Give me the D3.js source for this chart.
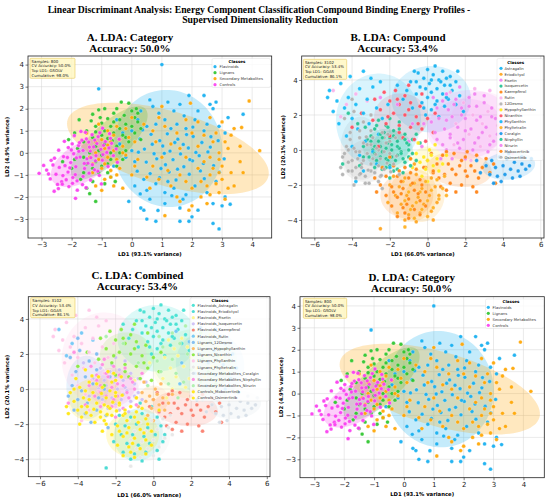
<!DOCTYPE html>
<html>
<head>
<meta charset="utf-8">
<script src="https://cdn.jsdelivr.net/npm/d3@7"></script>
<style>
  body { margin: 0; background: #fff; }
  svg { display: block; }
</style>
</head>
<body>
<div id="chart"></div>
<script>

// ---- category data (panels A and D) ----
const categories = ["Flavinoids", "Lignans", "Secondary Metabolites", "Controls"];
const categoryColors = ["#12aef0", "#2bc42b", "#ffa500", "#fa3cf0"];

const flavinoidsPts = [[1.0,4.0],[-1.1,2.9],[0.6,2.4],[1.2,2.3],[1.6,2.2],[1.9,2.6],[2.4,2.6],[2.6,2.2],[2.8,2.3],[3.7,1.75],
  [2.2,1.9],[1.4,1.9],[0.9,1.8],[0.3,1.9],[0.2,1.5],[0.5,1.2],[0.8,1.3],[1.1,1.5],[1.5,1.3],[1.8,1.1],[2.1,1.5],[2.5,1.3],
  [2.9,1.2],[3.1,0.9],[0.27,0.63],[0.64,0.84],[0.93,0.55],[1.18,0.86],[1.53,0.62],[1.71,0.38],[2.04,0.74],[2.33,0.47],
  [2.61,0.26],[2.87,0.55],[0.42,0.17],[0.74,-0.04],[1.03,0.31],[1.27,0.08],[1.62,-0.05],[1.88,0.22],[2.24,-0.13],[2.53,0.04],
  [0.48,-0.42],[0.83,-0.27],[1.12,-0.54],[1.37,-0.31],[1.73,-0.63],[2.02,-0.36],[0.18,-0.83],[0.61,-0.94],[0.92,-1.13],
  [1.24,-0.87],[1.47,-1.23],[1.91,-0.97],[2.28,-0.82],[2.72,-0.58],[3.07,-0.27],
  [0.1,-1.5],[0.5,-1.7],[0.8,-1.4],[1.1,-1.8],[1.4,-1.6],[1.8,-1.9],[2.1,-1.5],[2.5,-1.8],[2.8,-1.3],[3.1,-2.0],
  [3.0,-2.4],[0.6,-2.1],[-0.1,-2.2],[0.4,-2.6],[1.1,-2.3],[1.6,-2.5],[2.2,-2.6],[2.7,-2.3],[0.5,-3.0],[0.8,-3.1],[1.6,-3.1],
  [1.9,-3.1],[2.0,-2.9],[2.7,-3.2],[2.9,-3.45],[0.3,-2.5],[-0.4,0.4],[-0.2,-0.2],[0.0,0.1],[-0.6,-0.6],[0.0,1.0],[-0.3,0.9],
  [0.1,-0.4],[-0.5,1.5],[1.3,1.1],[0.4,-1.2],[1.7,-2.1],[2.4,1.0],[3.2,1.6],[2.7,2.0],[0.7,2.1],[1.2,-1.3],
  [1.43,0.47],[1.82,0.83],[2.13,0.02],[2.38,-0.48],[0.97,-0.71],[0.68,0.39],[1.52,-0.74],[2.03,1.17],[0.36,1.04],[1.08,-0.02],
  [2.63,0.73],[1.33,-1.94],[0.87,-2.61],[2.41,-1.17],[0.28,-1.86],[1.93,-0.31],[0.22,0.03],[2.91,-0.88],[3.27,-2.33],[1.74,1.68]];

const lignansPts = [[-1.75,1.5],[-1.3,1.75],[-1.1,1.95],[-0.9,2.0],[-0.35,2.3],[-0.1,2.25],[0.0,1.9],[0.1,1.6],[0.2,1.4],
  [0.3,1.1],[-0.6,1.8],[-0.8,1.55],[-1.0,1.35],[-1.2,1.2],[-1.5,1.0],[-0.4,1.5],[-0.2,1.3],[0.0,1.2],[-0.7,1.2],[-1.3,0.7],
  [-1.0,0.8],[-0.6,0.9],[-0.3,0.8],[-0.1,0.5],[-1.6,0.5],[-1.2,0.3],[-0.9,0.4],[-0.5,0.3],[-0.2,0.1],[-1.8,0.2],[-1.4,0.0],
  [-1.0,-0.1],[-0.7,0.0],[-0.3,-0.3],[-1.9,-0.3],[-1.5,-0.5],[-1.2,-0.4],[-0.8,-0.5],[-0.5,-0.6],[-2.0,-0.7],[-1.6,-0.9],
  [-1.1,-0.9],[-0.7,-1.1],[-1.3,-1.3],[-0.9,-1.4],[-1.5,-1.6],[-1.4,-1.85],[-1.2,-2.2],[-2.3,-0.4],[-2.1,0.6],[-0.4,1.1],
  [-0.8,0.65],[0.1,0.9],[-1.7,-1.2],[-1.05,1.6],[-0.55,-1.3],[-0.25,1.7],[0.15,2.0],[-0.65,0.55],[-1.35,1.45],
  [-0.6,1.4],[-0.9,1.0],[-1.1,0.1],[-0.4,0.0],[-1.3,-0.7],[-0.2,0.7],[0.2,1.8],[-0.7,-0.3],[-1.6,-0.2],[-0.5,2.0],
  [-1.0,-0.6],[0.3,0.6],[-1.9,0.9],[-0.8,-0.9],[-1.2,0.95]];

const secondaryPts = [[1.95,2.25],[3.9,2.35],[3.4,1.1],[3.65,1.15],[2.6,1.6],[2.2,1.4],[1.8,1.5],[1.1,1.2],[0.7,1.0],
  [1.0,2.1],[0.4,1.3],[1.5,0.9],[2.4,0.8],[2.8,0.9],[3.3,0.8],[3.6,0.3],[3.6,-0.4],[4.25,0.1],[3.2,0.2],[2.9,0.0],[2.6,-0.2],
  [2.2,0.3],[1.8,-0.2],[1.3,0.4],[0.8,0.5],[3.0,-0.6],[2.9,-0.9],[2.6,-1.0],[3.0,-1.2],[2.8,-1.4],[2.5,-1.5],[2.3,-1.3],
  [2.0,-1.6],[1.8,-1.3],[2.9,-1.8],[3.2,-1.6],[2.6,-1.9],[2.3,-2.0],[1.5,-2.0],[1.6,-2.2],[2.0,-2.4],[1.9,-2.6],[1.1,-2.85],
  [0.6,-1.6],[0.9,-1.2],[1.2,-0.8],[1.6,-1.0],[0.7,-0.6],[1.0,-0.2],[2.7,0.5],[3.3,-0.9],[2.2,-0.7],[-0.2,1.1],[-0.5,1.2],
  [-0.8,1.0],[-0.4,0.6],[-0.7,0.5],[-1.0,0.6],[-0.3,0.3],[-0.6,0.1],[-0.9,0.2],[-1.2,0.5],[-0.2,-0.1],[-0.5,-0.3],[-0.8,-0.2],
  [-1.1,-0.3],[-1.4,-0.2],[-0.4,-0.7],[-0.7,-0.8],[-1.0,-0.7],[-1.3,-0.9],[-0.9,-1.2],[-1.2,-1.5],[-0.6,-1.5],[-0.3,-1.6],
  [-1.0,-1.7],[0.1,0.5],[0.2,-0.3],[0.0,-1.0],[-1.5,0.9],[-1.1,1.3],[0.0,1.6],[2.9,-0.3],[3.1,-2.1],[3.7,-0.9],[2.4,-0.4],
  [-0.6,0.8],[-0.3,0.0],[-0.9,-0.5],[-0.1,0.7],[-1.2,0.0],[-0.7,-1.1],[-0.5,-1.0],[0.1,-0.6],[-1.3,-0.5],[-0.8,0.35],
  [2.0,0.9],[1.6,0.2],[3.4,-1.5],[2.7,-0.7],[3.1,0.5],[1.3,-1.5],[2.5,-2.3],[0.9,1.6],[3.0,1.4],[0.5,-1.1]];

const controlsPts = [[-3.08,-0.93],[-2.83,-0.78],[-2.62,-0.55],[-2.41,-0.66],[-2.71,-1.18],[-2.47,-1.43],[-2.58,-1.74],
  [-2.33,-1.31],[-2.18,-1.22],[-1.97,-1.38],[-1.82,-1.27],[-2.12,-0.87],[-1.88,-0.99],[-2.27,-0.17],[-2.03,-0.44],
  [-1.86,-0.63],[-1.57,-0.71],[-2.43,0.12],[-2.11,0.24],[-1.93,-0.04],[-1.72,-0.19],[-1.49,-0.27],[-1.31,-0.54],
  [-2.24,0.52],[-1.98,0.41],[-1.77,0.33],[-1.62,0.11],[-1.38,0.08],[-1.19,-0.13],[-0.98,-0.33],[-1.91,0.78],[-1.66,0.57],
  [-1.43,0.49],[-1.27,0.27],[-1.03,0.16],[-0.83,0.02],[-1.54,0.93],[-1.32,0.82],[-1.12,0.73],[-0.88,0.51],[-0.67,0.43],
  [-0.97,1.12],[-0.74,0.87],[-1.42,-0.92],[-1.13,-0.83],[-1.62,-1.07],[-1.37,-1.23],[-1.08,-1.02],[-2.68,-0.34],
  [-2.93,-0.57],[-1.81,-1.69],[-1.52,-1.58],[-2.29,-1.03],[-1.69,0.97],[-0.52,0.18],[-0.61,-0.13],[-0.79,-0.62],
  [-2.06,-0.68],[-2.52,-0.97],[-1.23,0.58],[-0.42,0.62],[-1.01,-1.41],[-1.87,-2.06],[-0.48,-0.43],[-1.76,0.07],
  [-2.22,-0.58],[-1.46,-0.47],[-0.94,0.34],[-2.44,-1.62],[-2.09,-1.53],[-1.84,-0.23],[-1.58,-0.48],[-1.36,-0.22],
  [-2.01,0.13],[-1.74,0.46],[-1.51,0.63],[-1.16,0.42],[-0.96,-0.08],[-2.14,-0.21],[-1.24,-0.77],[-0.76,0.22],
  [-1.96,-1.12],[-2.31,-1.42],[-1.64,-1.44],[-2.77,-0.96],[-1.41,0.26],[-1.06,0.91],[-0.71,0.66],[-2.57,-0.24],
  [-1.21,-0.36]];

const categoryPts = [flavinoidsPts, lignansPts, secondaryPts, controlsPts];

// confidence ellipses: centre x, centre y, then two conjugate half-axes
const categoryEllipses = [
  [1.2, 0.2, 1.8, 0.15, -0.15, 2.65],
  [-0.75, 0.45, 1.15, 1.6, 0.55, -0.45],
  [1.2, 0.2, 3.2, -0.55, -1.0, 2.0],
  [-1.65, -0.45, 1.0, 0.8, 0.3, -0.75]
];

// ---- compound data (panels B and C share the same projected samples) ----
const compounds = ["Astragalin","Eriodictyol","Fisetin","Isoquercetin","Kaempferol","Rutin","12Desmo","Hypophyllanthin",
  "Niranthin","Phyllanthin","Phyltetralin","Coralgin","Nirphyllin","Nirurin","Mobocertinib","Osimertinib"];
const compoundColors = ["#10b0f0","#ffa31a","#f07ef0","#1fbf8f","#ff7f0e","#f9b0ea","#b0b0b0","#ffe81a",
  "#ff4d5e","#10b8f5","#ffb020","#1496e8","#22c495","#f080f0","#ff8410","#b0b0b0"];

const combinedLabels = ["Flavinoids_Astragalin","Flavinoids_Eriodictyol","Flavinoids_Fisetin","Flavinoids_Isoquercetin",
  "Flavinoids_Kaempferol","Flavinoids_Rutin","Lignans_12Desmo","Lignans_Hypophyllanthin","Lignans_Niranthin",
  "Lignans_Phyllanthin","Lignans_Phyltetralin","Secondary Metabolites_Coralgin","Secondary Metabolites_Nirphyllin",
  "Secondary Metabolites_Nirurin","Controls_Mobocertinib","Controls_Osimertinib"];
const combinedColors = ["#3ee0d0","#3ed8d0","#fcf58a","#cbbdf5","#fa7a68","#6cc4f5","#7ab8f0","#ffb55a",
  "#86e83a","#ffc4e6","#e6e6e6","#d5dde6","#ff8ae0","#a8efa8","#ffe60a","#ffe60a"];

const astragalinPts = [[0.4,4.8],[0.0,4.6],[0.8,4.5],[-0.5,4.4],[0.3,4.3],[1.2,4.2],[-0.2,4.1],[0.6,4.0],[1.5,3.9],[-0.9,3.9],
  [0.1,3.8],[0.9,3.7],[-0.4,3.6],[0.5,3.5],[1.3,3.4],[-1.1,3.4],[0.2,3.3],[0.8,3.2],[-0.6,3.2],[1.7,3.1],[0.0,3.0],[1.1,2.9],
  [-1.3,2.9],[0.5,2.8],[-0.3,2.7],[1.5,2.6],[0.9,2.5],[-0.8,2.4],[0.2,2.3],[1.9,2.2],[-0.1,2.0],[0.6,1.9],[-1.6,3.7],
  [1.0,4.1],[-0.7,4.5],[1.6,4.5],[0.7,3.9],[-0.1,3.5],[1.0,3.0],[0.4,2.6],[-0.6,3.9],[1.2,3.7],[0.2,4.0],[-0.2,2.4]];
const eriodictyolPts = [[-1.8,-1.5],[-1.2,-1.6],[-0.6,-1.4],[0.2,-1.6],[-2.0,-2.0],[-1.5,-2.1],[-0.9,-2.0],[-0.3,-2.2],
  [0.4,-2.1],[-1.7,-2.6],[-1.1,-2.6],[-0.5,-2.7],[0.1,-2.6],[-2.1,-3.0],[-1.4,-3.1],[-0.8,-3.2],[-0.2,-3.1],[0.5,-3.0],
  [-1.6,-3.6],[-1.0,-3.7],[-0.4,-3.6],[0.2,-3.5],[-1.2,-4.0],[-0.6,-4.1],[0.3,-4.0],[-2.5,-4.5],[-0.1,-1.0],[-0.7,-0.8],
  [0.6,-2.6]];
const fisetinPts = [[0.8,2.8],[1.5,2.9],[2.2,3.0],[3.0,3.1],[1.1,2.3],[1.8,2.4],[2.6,2.5],[3.4,2.4],[0.6,1.8],[1.3,1.9],
  [2.0,1.8],[2.8,1.9],[3.6,1.8],[0.9,1.2],[1.6,1.3],[2.3,1.2],[3.1,1.3],[3.9,1.1],[0.5,0.6],[1.2,0.7],[1.9,0.6],[2.7,0.7],
  [3.5,0.5],[1.0,0.0],[1.7,0.1],[2.4,0.0],[3.2,-0.1],[0.7,-0.5],[2.0,-0.5],[-0.2,1.5],[-1.0,0.5],[-2.3,1.0]];
const isoquercetinPts = [[-2.8,1.2],[-2.3,1.0],[-1.8,1.1],[-1.2,0.9],[-2.6,0.5],[-2.1,0.4],[-1.6,0.5],[-1.0,0.3],[-2.9,0.0],
  [-2.4,-0.1],[-1.9,0.0],[-1.4,-0.1],[-0.8,-0.2],[-2.7,-0.6],[-2.2,-0.5],[-1.7,-0.6],[-1.2,-0.7],[-0.6,-0.6],[-2.4,-1.1],
  [-1.8,-1.2],[-1.3,-1.3],[-3.2,0.6],[-3.4,-0.4],[-0.4,0.4],[-1.5,1.6],[-2.0,1.8],[-3.7,1.5],
  [-2.0,0.7],[-1.5,0.1],[-2.5,0.2],[-1.0,-0.4],[-2.0,-0.9],[-1.6,-0.3],[-0.8,0.6],[-2.2,1.4]];
const kaempferolPts = [[0.2,-0.2],[0.8,-0.3],[1.4,-0.2],[2.0,-0.4],[2.6,-0.3],[3.1,-0.5],[0.5,-0.8],[1.1,-0.8],[1.7,-0.9],
  [2.3,-0.9],[2.9,-1.0],[0.3,-1.3],[0.9,-1.4],[1.5,-1.4],[2.1,-1.5],[2.7,-1.6],[1.2,-1.9],[1.8,-2.0],[2.4,-2.1],[3.3,-1.3],
  [0.7,-2.1],[1.5,-2.4],[2.1,-0.1],[0.0,-0.6],[3.5,-0.8],[2.6,-2.4],[-0.2,-1.0],[3.6,-1.9],[1.0,-0.1],
  [1.3,-1.1],[2.0,-1.2],[0.6,-1.6],[1.8,-0.6],[2.5,-1.2],[1.0,-2.3]];
const rutinPts = [[1.2,3.3],[2.5,3.5],[3.3,3.4],[1.9,2.7],[3.8,2.6],[2.4,2.0],[3.2,2.2],[4.2,2.0],[1.5,1.5],[2.9,1.5],
  [3.7,1.4],[4.4,1.2],[2.2,0.9],[3.3,0.8],[4.1,0.6],[1.4,0.3],[2.8,0.2],[3.8,0.0],[4.5,-0.2],[2.3,-0.6],[-4.3,2.6],
  [-3.8,3.2],[-5.0,3.4],[-3.2,2.8],[-4.6,1.9]];
const desmoPts = [[-4.4,1.8],[-3.9,2.2],[-3.4,1.6],[-4.1,1.0],[-3.6,0.7],[-3.0,1.1],[-4.3,0.2],[-3.8,-0.1],[-3.2,0.3],
  [-2.6,0.0],[-4.0,-0.6],[-3.5,-0.8],[-2.9,-0.5],[-4.2,-1.2],[-3.6,-1.4],[-3.0,-1.2],[-2.5,-1.5],[-3.3,-1.9],[-4.5,-0.4],
  [-2.3,0.7],[-3.0,2.0],[-2.4,-2.2],[-4.0,2.9]];
const hypophyllanthinPts = [[-0.2,-0.4],[0.0,-0.6],[0.2,-0.3],[-0.4,-0.7],[0.3,-0.9],[-0.1,-1.1],[0.5,-0.5],[-0.6,-0.2],
  [0.1,0.0],[0.6,-1.2],[-0.3,-1.5],[0.8,-0.8],[-0.8,-1.0],[0.4,0.3],[-0.5,0.4],[0.0,-1.8],[-0.9,-0.5],[1.0,-0.3]];
const niranthinPts = [[-2.3,3.3],[-1.7,3.4],[-1.2,3.1],[-2.8,2.9],[-2.0,2.8],[-1.5,2.6],[-0.9,2.7],[-0.4,2.5],[-2.5,2.3],
  [-1.8,2.1],[-1.2,2.0],[-0.6,1.9],[0.0,1.8],[-2.9,1.7],[-2.2,1.5],[-1.5,1.4],[-0.9,1.3],[-0.3,1.2],[0.3,1.0],[-2.0,0.8],
  [-1.3,0.7],[-0.7,0.6],[-0.1,0.5],[-3.5,2.1],[-4.0,1.3],[-1.0,3.7],[-0.3,3.2],[0.4,2.1],[-2.6,0.2],
  [-1.6,2.9],[-1.0,2.3],[-2.1,1.9],[-0.5,1.5],[-1.5,1.0]];
const phyllanthinPts = [[-5.2,3.4],[-4.6,3.8],[-4.1,4.2],[-3.4,4.5],[-3.0,4.1],[-4.8,2.8],[-4.2,3.0],[-3.6,3.5],[-2.9,3.6],
  [-5.0,2.2],[-4.4,2.4],[-3.8,2.6],[-3.2,2.9],[-2.5,3.9],[-4.7,1.5],[-4.0,1.8],[-3.4,2.1],[-2.7,2.4],[-4.3,0.8],[-3.7,1.2],
  [-3.1,1.5],[-2.4,1.8],[-4.0,0.2],[-3.3,0.5],[-2.6,0.9],[-3.6,-0.3],[-2.9,-0.1],[-3.4,-1.2],[-3.8,-1.8],[-2.1,2.6],
  [-2.0,-1.0],[-2.7,-0.8],[-5.3,3.0]];
const phyltetralinPts = [[-1.3,-1.8],[-0.7,-1.9],[-0.1,-1.8],[0.5,-1.7],[-1.0,-2.4],[-0.4,-2.4],[0.2,-2.3],[0.8,-2.2],
  [-1.2,-2.9],[-0.6,-3.0],[0.0,-2.9],[0.6,-2.8],[-0.9,-3.4],[-0.3,-3.4],[0.3,-3.3],[-0.7,-3.9],[0.0,-3.8],[-1.2,-4.4],
  [0.9,-1.5],[1.0,-2.6]];
const coralginPts = [[3.4,-0.6],[3.8,-0.4],[4.2,-0.5],[4.6,-0.7],[5.0,-0.8],[5.4,-0.9],[3.6,-1.0],[4.0,-0.9],[4.4,-1.1],
  [4.8,-1.2],[5.2,-1.1],[3.3,-1.4],[3.7,-1.5],[4.1,-1.4],[4.5,-1.6],[4.9,-1.5],[3.9,-1.8],[4.3,-0.2],[5.0,-0.4],[3.1,-0.9],
  [2.8,-1.3],[3.5,-1.9],[5.5,-0.5],[2.6,-0.6]];
const nirphyllinPts = [[-3.3,1.3],[-2.7,1.4],[-2.1,1.3],[-1.5,1.2],[-3.0,0.8],[-2.4,0.7],[-1.8,0.8],[-1.2,0.6],[-3.4,0.2],
  [-2.8,0.2],[-2.2,0.1],[-1.6,0.2],[-1.0,0.0],[-3.1,-0.4],[-2.5,-0.4],[-1.9,-0.4],[-1.3,-0.5],[-2.8,-1.0],[-2.2,-1.0],
  [-1.6,-1.1],[-0.9,-0.9],[-2.0,-1.6],[-3.6,-0.9],[-0.6,0.9],[-4.2,2.1],[-4.5,-0.8],
  [-2.5,0.9],[-1.9,0.3],[-1.4,-0.2],[-2.8,-0.2],[-2.1,-0.6],[-1.1,0.4],[-2.6,1.7],[-3.0,0.5]];
const nirurinPts = [[0.3,3.0],[1.0,3.2],[1.7,3.6],[2.5,3.2],[0.5,2.4],[1.4,2.6],[2.2,2.5],[3.0,2.7],[0.2,1.6],[1.0,1.7],
  [1.8,2.0],[2.6,1.7],[3.4,1.9],[0.4,1.0],[1.2,0.9],[2.0,1.1],[2.9,1.0],[3.7,0.9],[0.8,0.3],[1.6,0.4],[2.5,0.4],[3.3,0.3],
  [-0.3,0.2],[1.3,-0.5],[-1.6,2.6],[-2.5,3.0],[-0.8,1.5],[4.0,1.6],[3.8,2.3]];
const mobocertinibPts = [[-2.4,-1.0],[-1.8,-0.9],[-1.2,-1.0],[-0.6,-1.1],[-2.2,-1.5],[-1.6,-1.5],[-1.0,-1.6],[-0.4,-1.7],
  [-2.5,-2.0],[-1.9,-2.1],[-1.3,-2.2],[-0.7,-2.3],[-0.1,-2.4],[-2.2,-2.6],[-1.6,-2.7],[-1.0,-2.8],[-0.4,-2.9],[-1.9,-3.2],
  [-1.3,-3.3],[-0.7,-3.4],[-0.1,-3.2],[-1.6,-3.8],[-1.0,-3.9],[-0.4,-3.7],[-2.8,-1.6],[-2.7,-2.4],[0.3,-1.2],[-0.9,-0.5],
  [-2.0,-0.4],[-1.2,-3.6],[-1.5,-1.2],[-0.8,-1.9],[-1.4,-2.5],[-0.5,-2.5],[-1.1,-3.1],[-0.9,-1.3],[-1.8,-2.4],[-0.3,-2.0],
  [-1.4,-1.8]];
const osimertinibPts = [[-4.4,-0.2],[-3.9,0.1],[-3.4,0.4],[-2.9,0.7],[-2.4,1.0],[-4.2,-0.7],[-3.7,-0.5],[-3.2,-0.2],[-2.7,0.1],
  [-2.2,0.4],[-1.7,0.7],[-4.0,-1.2],[-3.5,-1.0],[-3.0,-0.8],[-2.5,-0.5],[-2.0,-0.2],[-3.8,-1.6],[-3.3,-1.5],[-2.8,-1.3],
  [-2.3,-1.1],[-1.8,-0.8],[-4.6,-1.0],[-3.1,-1.9],[-4.1,0.6],[-3.6,1.1],[-2.6,-1.8],[-4.5,-1.4],[-1.5,-1.4],[-2.1,0.9],
  [-3.9,-2.0],[-3.6,-0.1],[-3.0,0.3],[-2.6,-0.9],[-3.4,-0.6],[-2.3,-0.1],[-3.8,-1.0],[-2.0,0.5],[-4.2,0.0],
  [-3.15,-1.15],[-2.45,-1.45],[-1.95,-1.25],[-2.75,-0.25],[-3.25,0.75],[-1.65,-0.35],[-2.15,-0.75],[-3.55,-1.35]];

const compoundPts = [astragalinPts, eriodictyolPts, fisetinPts, isoquercetinPts, kaempferolPts, rutinPts, desmoPts,
  hypophyllanthinPts, niranthinPts, phyllanthinPts, phyltetralinPts, coralginPts, nirphyllinPts, nirurinPts,
  mobocertinibPts, osimertinibPts];

const compoundEllipses = [
  [0.2, 2.9, 2.1, 0.1, -0.1, 1.9],
  [-0.8, -2.6, 1.3, 0.1, 0.0, 1.5],
  [2.0, 1.2, 2.0, 0.3, -0.3, 1.7],
  [-1.9, 0.0, 1.1, 0.2, -0.2, 1.1],
  [1.7, -1.1, 1.7, -0.2, 0.1, 1.0],
  [3.0, 1.4, 1.8, -0.3, 0.2, 1.9],
  [-3.5, 0.1, 1.1, 0.1, -0.1, 1.8],
  [0.0, -0.6, 0.8, 0.0, 0.0, 0.8],
  [-1.4, 1.9, 1.4, -0.3, 0.3, 1.3],
  [-2.6, 1.7, 2.2, 0.6, -0.5, 2.6],
  [-0.2, -2.8, 1.1, 0.2, 0.0, 1.3],
  [4.3, -0.9, 1.4, 0.1, 0.0, 0.8],
  [-2.2, 0.1, 1.2, 0.1, -0.1, 1.1],
  [2.2, 1.6, 2.2, 0.3, -0.3, 1.8],
  [-1.1, -2.6, 1.4, 0.0, 0.0, 1.3],
  [-3.1, -0.6, 1.4, 0.3, -0.2, 1.2]
];

// ---- text in panels ----
const infoCategory = ["Samples: 800", "CV Accuracy: 50.0%", "Top LD1: GSOLV", "Cumulative: 98.0%"];
const infoCompound = ["Samples: 3102", "CV Accuracy: 53.4%", "Top LD1: GGAS", "Cumulative: 86.1%"];
const ticksCat = [-3, -2, -1, 0, 1, 2, 3, 4];
const ticksCompX = [-6, -4, -2, 0, 2, 4, 6];
const ticksCompY = [-4, -2, 0, 2, 4];


const width = 550, height = 501;

const svg = d3.select("#chart")
  .append("svg")
  .attr("width", width)
  .attr("height", height)
  .style("font-family", "DejaVu Sans, sans-serif");

const serif = "Liberation Serif, Times New Roman, serif";

// main title
svg.append("text")
  .attr("x", 259).attr("y", 13)
  .attr("text-anchor", "middle")
  .style("font-family", serif).style("font-weight", "bold").style("font-size", "9.7px")
  .text("Linear Discriminant Analysis: Energy Component Classification Compound Binding Energy Profiles -");
svg.append("text")
  .attr("x", 260).attr("y", 22.8)
  .attr("text-anchor", "middle")
  .style("font-family", serif).style("font-weight", "bold").style("font-size", "9.7px")
  .text("Supervised Dimensionality Reduction");

let clipId = 0;

function drawPanel(p) {
  const x = d3.scaleLinear().domain(p.xDomain).range([p.box.l, p.box.r]);
  const y = d3.scaleLinear().domain(p.yDomain).range([p.box.b, p.box.t]);
  const g = svg.append("g");

  // titles
  p.title.forEach((t, i) => {
    g.append("text")
      .attr("x", p.titleX).attr("y", p.titleY[i])
      .attr("text-anchor", "middle")
      .style("font-family", serif).style("font-weight", "bold").style("font-size", "11px")
      .text(t);
  });

  // grid
  g.selectAll(".gx").data(p.xTicks).enter().append("line")
    .attr("x1", d => x(d)).attr("x2", d => x(d))
    .attr("y1", p.box.t).attr("y2", p.box.b)
    .attr("stroke", "#d4d4d4").attr("stroke-width", 0.5);
  g.selectAll(".gy").data(p.yTicks).enter().append("line")
    .attr("y1", d => y(d)).attr("y2", d => y(d))
    .attr("x1", p.box.l).attr("x2", p.box.r)
    .attr("stroke", "#d4d4d4").attr("stroke-width", 0.5);

  const id = "clip" + (clipId++);
  g.append("clipPath").attr("id", id)
    .append("rect")
    .attr("x", p.box.l).attr("y", p.box.t)
    .attr("width", p.box.r - p.box.l).attr("height", p.box.b - p.box.t);
  const plot = g.append("g").attr("clip-path", `url(#${id})`);

  // ellipses
  const ts = d3.range(0, 2 * Math.PI, Math.PI / 60);
  const line = d3.line().curve(d3.curveLinearClosed);
  p.groups.forEach((grp) => {
    const e = grp.ell;
    const path = ts.map(t => [
      x(e[0] + e[2] * Math.cos(t) + e[4] * Math.sin(t)),
      y(e[1] + e[3] * Math.cos(t) + e[5] * Math.sin(t))
    ]);
    plot.append("path")
      .attr("d", line(path))
      .attr("fill", grp.color)
      .attr("fill-opacity", p.ellOpacity)
      .attr("stroke", "none");
  });

  // points
  p.groups.forEach((grp) => {
    plot.append("g").selectAll("circle")
      .data(grp.pts)
      .enter()
      .append("circle")
      .attr("cx", d => x(d[0]))
      .attr("cy", d => y(d[1]))
      .attr("r", 1.9)
      .attr("fill", grp.color)
      .attr("fill-opacity", 0.92)
      .attr("stroke", "#fff")
      .attr("stroke-width", 0.25);
  });

  // frame
  g.append("rect")
    .attr("x", p.box.l).attr("y", p.box.t)
    .attr("width", p.box.r - p.box.l).attr("height", p.box.b - p.box.t)
    .attr("fill", "none").attr("stroke", "#222").attr("stroke-width", 0.8);

  // axes
  const ax = g.append("g")
    .attr("transform", `translate(0,${p.box.b})`)
    .call(d3.axisBottom(x).tickValues(p.xTicks).tickSize(2.5).tickPadding(1.5));
  const ay = g.append("g")
    .attr("transform", `translate(${p.box.l},0)`)
    .call(d3.axisLeft(y).tickValues(p.yTicks).tickSize(2.5).tickPadding(1.5));
  [ax, ay].forEach(a => {
    a.select(".domain").remove();
    a.selectAll("text").style("font-size", "7px").style("font-family", "DejaVu Sans, sans-serif").attr("fill", "#222");
    a.selectAll("line").attr("stroke", "#222").attr("stroke-width", 0.6);
  });

  // axis labels
  g.append("text")
    .attr("x", (p.box.l + p.box.r) / 2).attr("y", p.xLabelY)
    .attr("text-anchor", "middle")
    .style("font-size", "5.3px").style("font-weight", "bold")
    .text(p.xLabel);
  g.append("text")
    .attr("transform", `translate(${p.yLabelX},${(p.box.t + p.box.b) / 2}) rotate(-90)`)
    .attr("text-anchor", "middle")
    .style("font-size", "5.3px").style("font-weight", "bold")
    .text(p.yLabel);

  // info box
  const ib = p.info;
  g.append("rect")
    .attr("x", ib.x).attr("y", ib.y).attr("width", ib.w).attr("height", 20)
    .attr("rx", 1)
    .attr("fill", "#fff7c2").attr("fill-opacity", 0.85)
    .attr("stroke", "#e8c95a").attr("stroke-width", 0.6);
  ib.lines.forEach((t, i) => {
    g.append("text")
      .attr("x", ib.x + 1.6).attr("y", ib.y + 4.3 + i * 4.8)
      .style("font-size", "3.9px").attr("fill", "#222")
      .text(t);
  });

  // legend
  const lg = p.legend;
  g.append("rect")
    .attr("x", lg.x).attr("y", lg.y).attr("width", lg.w).attr("height", lg.h)
    .attr("rx", 1.5)
    .attr("fill", "#fff").attr("fill-opacity", 0.8)
    .attr("stroke", "#d8d8d8").attr("stroke-width", 0.4);
  g.append("text")
    .attr("x", lg.titleX).attr("y", lg.titleY)
    .attr("text-anchor", "middle")
    .style("font-size", "4px").style("font-weight", "bold")
    .text("Classes");
  p.groups.forEach((grp, i) => {
    const yy = lg.first + i * lg.step;
    g.append("circle")
      .attr("cx", lg.mx).attr("cy", yy).attr("r", 1.6)
      .attr("fill", grp.color).attr("fill-opacity", 0.9);
    g.append("text")
      .attr("x", lg.tx).attr("y", yy + 1.4)
      .style("font-size", "3.8px").attr("fill", "#333")
      .text(grp.name);
  });
}

const catGroups = categories.map((c, i) => ({
  name: c, color: categoryColors[i], pts: categoryPts[i], ell: categoryEllipses[i]
}));
const compGroups = compounds.map((c, i) => ({
  name: c, color: compoundColors[i], pts: compoundPts[i], ell: compoundEllipses[i]
}));
const combGroups = combinedLabels.map((c, i) => ({
  name: c, color: combinedColors[i], pts: compoundPts[i], ell: compoundEllipses[i]
}));

// A
drawPanel({
  box: {l: 28, r: 271.7, t: 56, b: 238},
  xDomain: [-3.45, 4.65], yDomain: [-3.86, 4.39],
  xTicks: ticksCat, yTicks: ticksCat.slice(0),
  title: ["A. LDA: Category", "Accuracy: 50.0%"], titleX: 130, titleY: [40.5, 51.5],
  xLabel: "LD1 (93.1% variance)", xLabelY: 255.5,
  yLabel: "LD2 (4.9% variance)", yLabelX: 8.5,
  groups: catGroups, ellOpacity: 0.25,
  info: {x: 30, y: 58.3, w: 45, lines: infoCategory},
  legend: {x: 212, y: 58.5, w: 58.5, h: 29, titleX: 237, titleY: 62.5, first: 66.7, step: 6, mx: 215, tx: 219.5}
});

// B
drawPanel({
  box: {l: 301.7, r: 544, t: 56, b: 238},
  xDomain: [-6.67, 6.17], yDomain: [-5.03, 5.37],
  xTicks: ticksCompX, yTicks: ticksCompY,
  title: ["B. LDA: Compound", "Accuracy: 53.4%"], titleX: 398, titleY: [40.5, 51.5],
  xLabel: "LD1 (66.0% variance)", xLabelY: 255.5,
  yLabel: "LD2 (20.1% variance)", yLabelX: 285,
  groups: compGroups, ellOpacity: 0.16,
  info: {x: 303.3, y: 59.3, w: 43.4, lines: infoCompound},
  legend: {x: 497, y: 58.5, w: 46, h: 102, titleX: 515.7, titleY: 64, first: 68.3, step: 5.93, mx: 501, tx: 504.5}
});

// C
drawPanel({
  box: {l: 28.3, r: 270, t: 296.7, b: 476.7},
  xDomain: [-6.62, 6.17], yDomain: [-5.0, 5.27],
  xTicks: ticksCompX, yTicks: ticksCompY,
  title: ["C. LDA: Combined", "Accuracy: 53.4%"], titleX: 137.5, titleY: [279, 290],
  xLabel: "LD1 (66.0% variance)", xLabelY: 496.5,
  yLabel: "LD2 (20.1% variance)", yLabelX: 9.3,
  groups: combGroups, ellOpacity: 0.18,
  info: {x: 30.7, y: 297.7, w: 44.3, lines: infoCompound},
  legend: {x: 190, y: 298, w: 79, h: 103, titleX: 220, titleY: 301.5, first: 305.3, step: 6.18, mx: 193.3, tx: 197.5}
});

// D
drawPanel({
  box: {l: 300, r: 544.3, t: 296.7, b: 477.7},
  xDomain: [-3.48, 4.70], yDomain: [-3.84, 4.42],
  xTicks: ticksCat, yTicks: ticksCat.slice(0),
  title: ["D. LDA: Category", "Accuracy: 50.0%"], titleX: 411.7, titleY: [281, 291.5],
  xLabel: "LD1 (93.1% variance)", xLabelY: 496,
  yLabel: "LD2 (4.9% variance)", yLabelX: 282.5,
  groups: catGroups, ellOpacity: 0.25,
  info: {x: 303.3, y: 298.3, w: 43.4, lines: infoCategory},
  legend: {x: 485.5, y: 299, w: 58, h: 29.5, titleX: 511, titleY: 303, first: 307.3, step: 6, mx: 488.3, tx: 492.5}
});

</script>
</body>
</html>
